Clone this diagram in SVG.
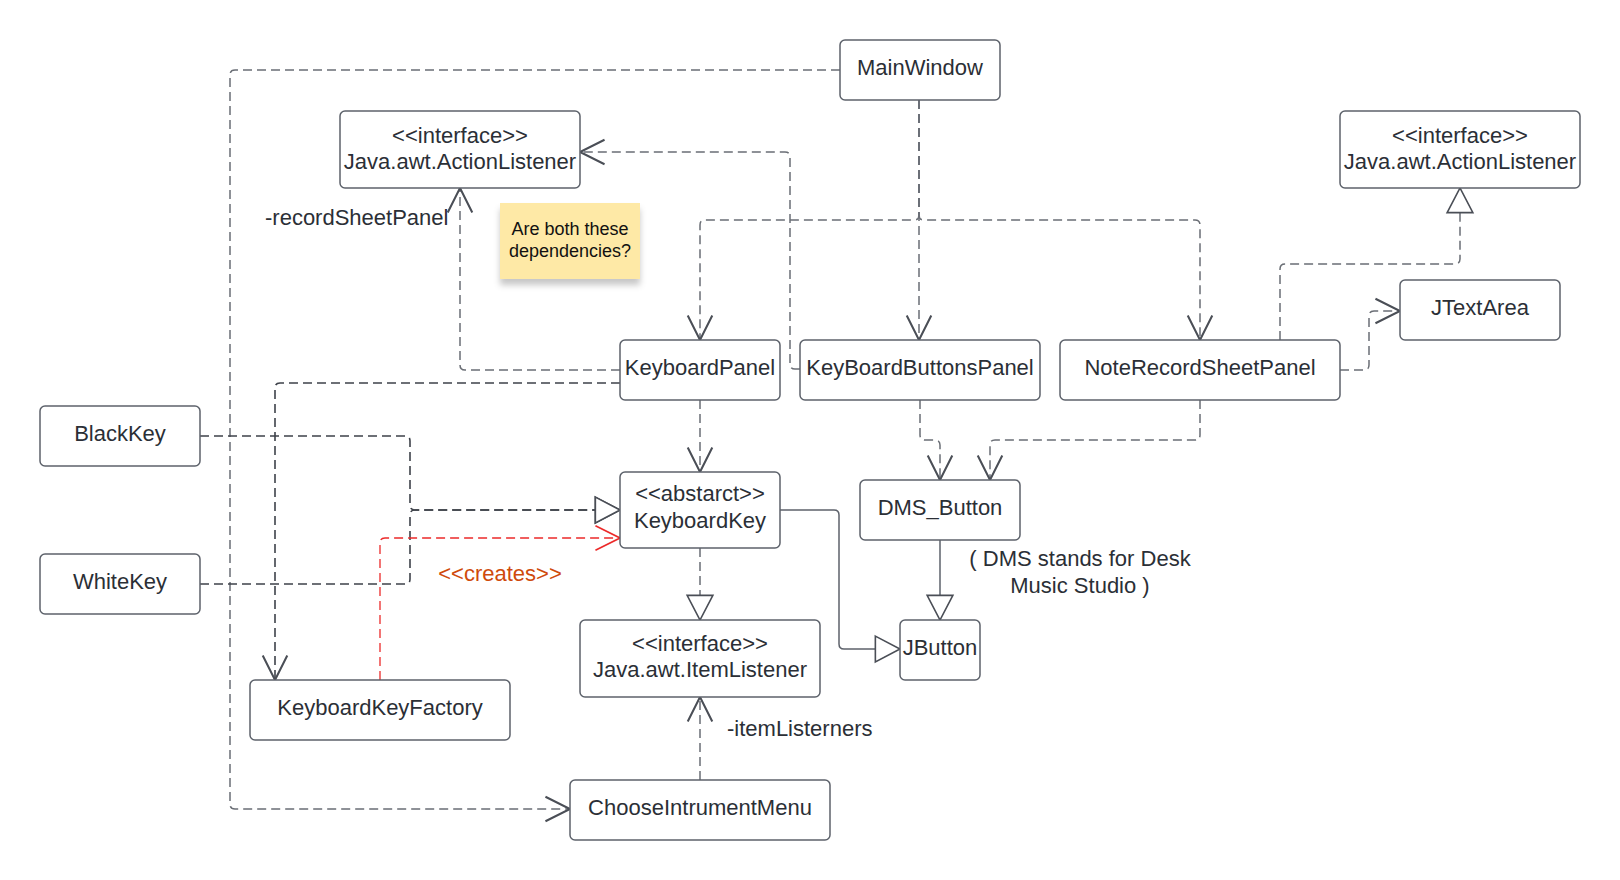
<svg xmlns="http://www.w3.org/2000/svg" width="1620" height="880" viewBox="0 0 1620 880">
<style>
.box{fill:#ffffff;stroke:#5d626b;stroke-width:1.5}
.t{font-family:"Liberation Sans",Arial,sans-serif;font-size:22px;fill:#2b2f36;text-anchor:middle}
.lbl{font-family:"Liberation Sans",Arial,sans-serif;font-size:22px;fill:#2b2f36}
.dep{fill:none;stroke:#6a6e75;stroke-width:1.5;stroke-dasharray:9 5}
.dep2{fill:none;stroke:#3e424a;stroke-width:1.6;stroke-dasharray:9 5}
.red{fill:none;stroke:#ec2a2a;stroke-width:1.3;stroke-dasharray:9 5}
.solid{fill:none;stroke:#5d626b;stroke-width:1.5}
</style>
<defs>
<marker id="open" markerUnits="userSpaceOnUse" markerWidth="30" markerHeight="30" viewBox="-20 -11 22 22" refX="0" refY="0" orient="auto" overflow="visible">
<path d="M -18 -9 L 0 0 L -18 9" fill="none" stroke="#4a4e56" stroke-width="1.5" stroke-dasharray="none"/>
</marker>
<marker id="openRed" markerUnits="userSpaceOnUse" markerWidth="30" markerHeight="30" viewBox="-20 -11 22 22" refX="0" refY="0" orient="auto" overflow="visible">
<path d="M -18 -9 L 0 0 L -18 9" fill="none" stroke="#ec2a2a" stroke-width="1.3" stroke-dasharray="none"/>
</marker>
<marker id="tri" markerUnits="userSpaceOnUse" markerWidth="30" markerHeight="30" viewBox="-25 -14 27 28" refX="0" refY="0" orient="auto" overflow="visible">
<path d="M -23 -12 L 0 0 L -23 12 Z" fill="#ffffff" stroke="#4a4e56" stroke-width="1.5" stroke-dasharray="none"/>
</marker>
<filter id="shadow" x="-20%" y="-20%" width="140%" height="160%">
<feDropShadow dx="0" dy="6" stdDeviation="3" flood-color="#000000" flood-opacity="0.22"/>
</filter>
</defs>

<g id="connectors">
<path class="dep" d="M 840 70 H 235 Q 230 70 230 75 V 804 Q 230 809 235 809 H 570" marker-end="url(#open)"/>
<path class="dep" d="M 919 100 V 215 Q 919 220 914 220 H 705 Q 700 220 700 225 V 340" marker-end="url(#open)"/>
<path class="dep" d="M 919 100 V 340" marker-end="url(#open)"/>
<path class="dep" d="M 919 100 V 215 Q 919 220 924 220 H 1195 Q 1200 220 1200 225 V 340" marker-end="url(#open)"/>
<path class="dep" d="M 800 369 H 795 Q 790 369 790 364 V 157 Q 790 152 785 152 H 580" marker-end="url(#open)"/>
<path class="dep" d="M 620 370 H 465 Q 460 370 460 365 V 188" marker-end="url(#open)"/>
<path class="dep2" d="M 620 383 H 280 Q 275 383 275 388 V 680" marker-end="url(#open)"/>
<path class="dep2" d="M 200 436 H 405 Q 410 436 410 441 V 505 Q 410 510 415 510 H 620" marker-end="url(#tri)"/>
<path class="dep2" d="M 200 584 H 405 Q 410 584 410 579 V 515 Q 410 510 415 510 H 620" marker-end="url(#tri)"/>
<path class="red" d="M 380 680 V 543 Q 380 538 385 538 H 620" marker-end="url(#openRed)"/>
<path class="dep" d="M 700 400 V 472" marker-end="url(#open)"/>
<path class="dep" d="M 700 548 V 620" marker-end="url(#tri)"/>
<path class="dep" d="M 700 780 V 697" marker-end="url(#open)"/>
<path class="solid" d="M 780 510 H 834 Q 839 510 839 515 V 644 Q 839 649 844 649 H 900" marker-end="url(#tri)"/>
<path class="solid" d="M 940 540 V 620" marker-end="url(#tri)"/>
<path class="dep" d="M 920 400 V 435 Q 920 440 925 440 H 935 Q 940 440 940 445 V 480" marker-end="url(#open)"/>
<path class="dep" d="M 1200 400 V 435 Q 1200 440 1195 440 H 995 Q 990 440 990 445 V 480" marker-end="url(#open)"/>
<path class="dep" d="M 1280 340 V 269 Q 1280 264 1285 264 H 1455 Q 1460 264 1460 259 V 188" marker-end="url(#tri)"/>
<path class="dep" d="M 1340 370 H 1364 Q 1369 370 1369 365 V 316 Q 1369 311 1374 311 H 1400" marker-end="url(#open)"/>
</g>

<g id="MainWindow"><rect class="box" x="840" y="40" width="160" height="60" rx="5"/><text class="t" x="920" y="75">MainWindow</text></g>
<g id="ActionListener1"><rect class="box" x="340" y="111" width="240" height="77" rx="5"/><text class="t" x="460" y="143">&lt;&lt;interface&gt;&gt;</text><text class="t" x="460" y="169">Java.awt.ActionListener</text></g>
<g id="ActionListener2"><rect class="box" x="1340" y="111" width="240" height="77" rx="5"/><text class="t" x="1460" y="143">&lt;&lt;interface&gt;&gt;</text><text class="t" x="1460" y="169">Java.awt.ActionListener</text></g>
<g id="Note"><rect x="500" y="203" width="140" height="76" fill="#fee9a6" filter="url(#shadow)"/><text x="570" y="235" font-family="Liberation Sans, Arial, sans-serif" font-size="18" fill="#111111" text-anchor="middle">Are both these</text><text x="570" y="257" font-family="Liberation Sans, Arial, sans-serif" font-size="18" fill="#111111" text-anchor="middle">dependencies?</text></g>
<g id="JTextArea"><rect class="box" x="1400" y="280" width="160" height="60" rx="5"/><text class="t" x="1480" y="315">JTextArea</text></g>
<g id="KeyboardPanel"><rect class="box" x="620" y="340" width="160" height="60" rx="5"/><text class="t" x="700" y="375">KeyboardPanel</text></g>
<g id="KeyBoardButtonsPanel"><rect class="box" x="800" y="340" width="240" height="60" rx="5"/><text class="t" x="920" y="375">KeyBoardButtonsPanel</text></g>
<g id="NoteRecordSheetPanel"><rect class="box" x="1060" y="340" width="280" height="60" rx="5"/><text class="t" x="1200" y="375">NoteRecordSheetPanel</text></g>
<g id="BlackKey"><rect class="box" x="40" y="406" width="160" height="60" rx="5"/><text class="t" x="120" y="441">BlackKey</text></g>
<g id="WhiteKey"><rect class="box" x="40" y="554" width="160" height="60" rx="5"/><text class="t" x="120" y="589">WhiteKey</text></g>
<g id="KeyboardKey"><rect class="box" x="620" y="472" width="160" height="76" rx="5"/><text class="t" x="700" y="501">&lt;&lt;abstarct&gt;&gt;</text><text class="t" x="700" y="528">KeyboardKey</text></g>
<g id="DMS_Button"><rect class="box" x="860" y="480" width="160" height="60" rx="5"/><text class="t" x="940" y="515">DMS_Button</text></g>
<g id="ItemListener"><rect class="box" x="580" y="620" width="240" height="77" rx="5"/><text class="t" x="700" y="651">&lt;&lt;interface&gt;&gt;</text><text class="t" x="700" y="677">Java.awt.ItemListener</text></g>
<g id="JButton"><rect class="box" x="900" y="620" width="80" height="60" rx="5"/><text class="t" x="940" y="655">JButton</text></g>
<g id="KeyboardKeyFactory"><rect class="box" x="250" y="680" width="260" height="60" rx="5"/><text class="t" x="380" y="715">KeyboardKeyFactory</text></g>
<g id="ChooseIntrumentMenu"><rect class="box" x="570" y="780" width="260" height="60" rx="5"/><text class="t" x="700" y="815">ChooseIntrumentMenu</text></g>

<g id="labels">
<text class="lbl" x="265" y="225">-recordSheetPanel</text>
<text class="lbl" x="727" y="736">-itemListerners</text>
<text class="t" x="500" y="581" style="fill:#cf4a0c">&lt;&lt;creates&gt;&gt;</text>
<text class="t" x="1080" y="566">( DMS stands for Desk</text>
<text class="t" x="1080" y="593">Music Studio )</text>
</g>
</svg>
